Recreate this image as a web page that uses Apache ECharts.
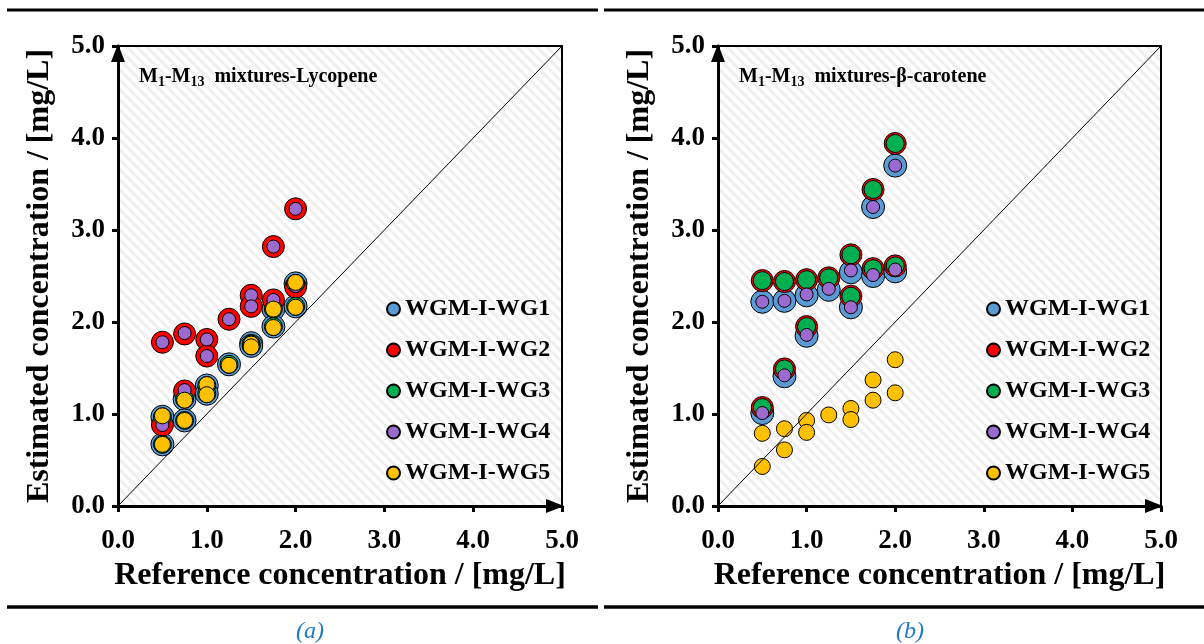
<!DOCTYPE html>
<html>
<head>
<meta charset="utf-8">
<script src="https://cdn.jsdelivr.net/npm/echarts@6/dist/echarts.min.js"></script>
<style>
  html, body { margin: 0; padding: 0; background: #fff; }
  #chart { width: 1204px; height: 644px; }
</style>
</head>
<body>
<div id="chart"></div>
<script>
// reference concentrations of M1..M13 (same for both panels)
var refX = [0.5, 0.5, 0.75, 0.75, 1.0, 1.0, 1.25, 1.5, 1.5, 1.75, 1.75, 2.0, 2.0]
var seriesNames = ['WGM-I-WG1', 'WGM-I-WG2', 'WGM-I-WG3', 'WGM-I-WG4', 'WGM-I-WG5']
var axisTicks = [0, 1, 2, 3, 4, 5]

// (a) lycopene, estimated
var lycoWG1 = [0.97, 0.67, 1.16, 0.93, 1.31, 1.22, 1.54, 1.77, 1.74, 2.14, 1.95, 2.42, 2.17]
var lycoWG2 = [1.78, 0.88, 1.87, 1.25, 1.81, 1.63, 2.03, 2.29, 2.17, 2.82, 2.24, 3.23, 2.38]
var lycoWG3 = [0.97, 0.67, 1.16, 0.93, 1.31, 1.22, 1.54, 1.76, 1.74, 2.14, 1.95, 2.42, 2.17]
var lycoWG4 = [1.78, 0.88, 1.88, 1.26, 1.81, 1.63, 2.03, 2.29, 2.17, 2.82, 2.24, 3.23, 2.39]
var lycoWG5 = [0.98, 0.67, 1.15, 0.93, 1.32, 1.21, 1.53, 1.76, 1.73, 2.14, 1.94, 2.43, 2.16]

// (b) beta-carotene, estimated
var betaWG1 = [2.22, 1.01, 2.23, 1.41, 2.29, 1.85, 2.35, 2.54, 2.16, 3.25, 2.50, 3.70, 2.55]
var betaWG2 = [2.45, 1.07, 2.44, 1.49, 2.46, 1.95, 2.48, 2.73, 2.28, 3.44, 2.58, 3.94, 2.61]
var betaWG3 = [2.45, 1.07, 2.44, 1.49, 2.46, 1.95, 2.48, 2.73, 2.28, 3.44, 2.58, 3.94, 2.61]
var betaWG4 = [2.22, 1.01, 2.23, 1.42, 2.30, 1.86, 2.36, 2.56, 2.16, 3.25, 2.51, 3.70, 2.57]
var betaWG5 = [0.79, 0.43, 0.84, 0.61, 0.93, 0.80, 0.99, 1.06, 0.94, 1.37, 1.15, 1.59, 1.23]

var colors = ['#5b9bd5', '#ff0000', '#00b050', '#9b6bcf', '#ffc000']
var sizes = [23, 22, 18, 13, 16]
var serif = 'Liberation Serif'

// light diagonal hatch for the plot area
var tile = document.createElement('canvas')
tile.width = 10
tile.height = 10
var g = tile.getContext('2d')
g.fillStyle = '#ffffff'
g.fillRect(0, 0, 10, 10)
g.strokeStyle = '#efefef'
g.lineWidth = 3
g.beginPath()
g.moveTo(-1, -1); g.lineTo(11, 11)
g.moveTo(-1, 9); g.lineTo(1, 11)
g.moveTo(9, -1); g.lineTo(11, 1)
g.stroke()

function pairs (ys) {
  return ys.map(function (y, i) { return [refX[i], y] })
}

function makeAxis (idx, isX) {
  return {
    type: 'value',
    gridIndex: idx,
    min: 0,
    max: 5,
    interval: 1,
    name: isX ? 'Reference concentration / [mg/L]' : 'Estimated concentration / [mg/L]',
    nameLocation: 'middle',
    nameGap: isX ? 49 : 62,
    nameTextStyle: { fontFamily: serif, fontWeight: 'bold', fontSize: 32, color: '#000' },
    axisLine: {
      show: true,
      onZero: false,
      symbol: ['none', 'triangle'],
      symbolSize: [14, 18],
      symbolOffset: [0, -7],
      lineStyle: { color: '#000', width: 3 }
    },
    axisTick: { show: true, length: 6, lineStyle: { color: '#000', width: 3 } },
    axisLabel: {
      margin: isX ? 22 : 13,
      fontFamily: serif,
      fontWeight: 'bold',
      fontSize: 27,
      color: '#000',
      formatter: function (v) { return v.toFixed(1) }
    },
    splitLine: { show: false }
  }
}

function panelSeries (idx, data) {
  var list = [{
    name: 'diag',
    type: 'line',
    xAxisIndex: idx,
    yAxisIndex: idx,
    data: [[axisTicks[0], axisTicks[0]], [axisTicks[5], axisTicks[5]]],
    showSymbol: false,
    silent: true,
    lineStyle: { color: '#000', width: 1 }
  }]
  for (var i = 0; i < data.length; i++) {
    list.push({
      name: seriesNames[i],
      type: 'scatter',
      xAxisIndex: idx,
      yAxisIndex: idx,
      symbol: 'circle',
      symbolSize: sizes[i],
      itemStyle: { color: colors[i], borderColor: '#000', borderWidth: 1, opacity: 1 },
      data: pairs(data[i])
    })
  }
  return list
}

function panelTitle (left, name) {
  return {
    left: left,
    top: 59,
    text: '{a|M}{s|1}{a|-M}{s|13}{a|  mixtures-' + name + '}',
    textStyle: {
      rich: {
        a: { fontFamily: serif, fontWeight: 'bold', fontSize: 20, lineHeight: 26, color: '#000', verticalAlign: 'middle' },
        s: { fontFamily: serif, fontWeight: 'bold', fontSize: 14, lineHeight: 14, color: '#000', verticalAlign: 'bottom', padding: [0, 0, 1, 0] }
      }
    }
  }
}

function caption (left, text) {
  return {
    left: left,
    top: 615,
    text: text,
    textAlign: 'center',
    textStyle: { fontFamily: serif, fontStyle: 'italic', fontWeight: 'normal', fontSize: 24, color: '#1f78c4' }
  }
}

function legendAt (left) {
  return {
    left: left,
    top: 292,
    orient: 'vertical',
    itemWidth: 13,
    itemHeight: 13,
    itemGap: 17,
    icon: 'circle',
    data: seriesNames,
    textStyle: { fontFamily: serif, fontWeight: 'bold', fontSize: 24, color: '#000' }
  }
}

var gridBg = { image: tile, repeat: 'repeat' }

var option = {
  animation: false,
  backgroundColor: '#fff',
  title: [
    panelTitle(134, 'Lycopene'),
    panelTitle(734, 'β-carotene'),
    caption(305, '(a)'),
    caption(905, '(b)')
  ],
  legend: [legendAt(381), legendAt(981)],
  grid: [
    { left: 118, top: 46, width: 444, height: 460, show: true, backgroundColor: gridBg, borderColor: '#000', borderWidth: 2 },
    { left: 718, top: 46, width: 443, height: 460, show: true, backgroundColor: gridBg, borderColor: '#000', borderWidth: 2 }
  ],
  xAxis: [makeAxis(0, true), makeAxis(1, true)],
  yAxis: [makeAxis(0, false), makeAxis(1, false)],
  series: panelSeries(0, [lycoWG1, lycoWG2, lycoWG3, lycoWG4, lycoWG5])
    .concat(panelSeries(1, [betaWG1, betaWG2, betaWG3, betaWG4, betaWG5])),
  graphic: [
    { type: 'line', shape: { x1: 7, y1: 10, x2: 598, y2: 10 }, style: { stroke: '#000', lineWidth: 3 } },
    { type: 'line', shape: { x1: 604, y1: 10, x2: 1204, y2: 10 }, style: { stroke: '#000', lineWidth: 3 } },
    { type: 'line', shape: { x1: 7, y1: 607, x2: 598, y2: 607 }, style: { stroke: '#000', lineWidth: 3.5 } },
    { type: 'line', shape: { x1: 604, y1: 607, x2: 1204, y2: 607 }, style: { stroke: '#000', lineWidth: 3.5 } }
  ]
}

var chart = echarts.init(document.getElementById('chart'))
chart.setOption(option)
</script>
</body>
</html>
